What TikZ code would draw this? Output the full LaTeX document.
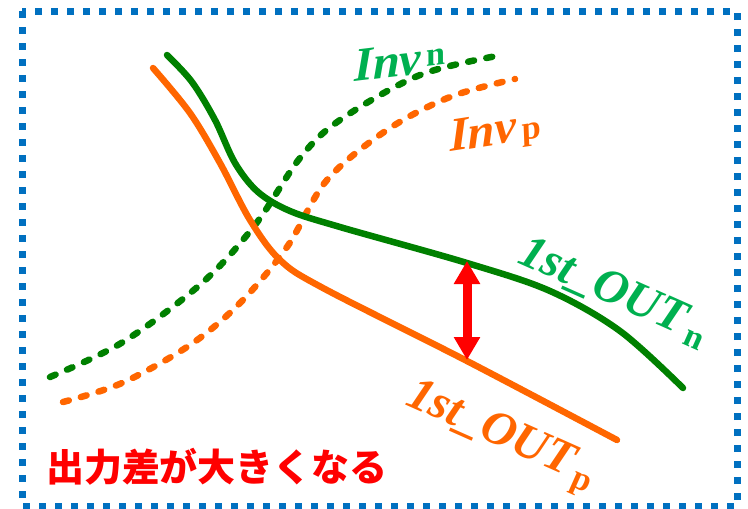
\documentclass[tikz,border=0pt]{standalone}
\usepackage{fontspec}
\setmainfont{Liberation Serif}
\newfontfamily\cjkfont{Noto Sans CJK JP}
\usetikzlibrary{arrows.meta}
\definecolor{bordblue}{HTML}{0070C0}
\definecolor{curvegreen}{HTML}{008000}
\definecolor{lblgreen}{HTML}{00B050}
\definecolor{curveorange}{HTML}{FF6600}
\tikzset{
  solidcurve/.style={line width=6.5pt, line cap=round, line join=round},
  dashcurve/.style={line width=6.5pt, line cap=round, dash pattern=on 6pt off 12.5pt},
  lbl/.style={font=\fontsize{48}{52}\selectfont\bfseries\itshape, inner sep=0pt, anchor=base west},
  invlbl/.style={lbl, xslant=0.12},
}
\newcommand{\subtxt}[2]{\hspace{5pt}\raisebox{#1}{\fontsize{34}{38}\selectfont\upshape #2}}
\begin{document}
\begin{tikzpicture}[x=1pt,y=-1pt]
\useasboundingbox (0,0) rectangle (748,509);
% border
\draw[bordblue, line width=7pt, dash pattern=on 7pt off 9pt] (22,11) rectangle (737,506);
% dashed curves
\draw[dashcurve, curvegreen] plot[smooth, tension=0.55] coordinates {(50,377) (123,342) (202,283) (255,225) (300,158) (340,120) (420,75) (502,55)};
\draw[dashcurve, curveorange] plot[smooth, tension=0.55] coordinates {(63,402) (122,383) (190,345) (240,303) (287,247) (327,180) (387,130) (450,97) (515,79)};
% solid curves
\draw[solidcurve, curvegreen] plot[smooth, tension=0.55] coordinates {(167,55) (192,82) (215,120) (235,163) (258,192) (290,211) (340,227) (467,263) (550,291) (620,331) (683,388)};
\draw[solidcurve, curveorange] plot[smooth, tension=0.55] coordinates {(153,68) (190,113) (220,163) (250,220) (280,260) (323,288) (467,361) (617,440)};
% arrow
\coordinate (atop) at (467,261);
\coordinate (abot) at (467,360);
\draw[red, line width=9pt, {Triangle[width=25pt,length=23pt]}-{Triangle[width=25pt,length=23pt]}] (atop) -- (abot);
% labels
\node[invlbl, lblgreen, rotate=7] (invn) at (354,82) {Inv\subtxt{7pt}{n}};
\node[invlbl, curveorange, rotate=9] (invp) at (450,152) {Inv\subtxt{0pt}{p}};
\node[lbl, lblgreen, rotate=-24] (outn) at (516,262) {1st\_OUT\subtxt{-7pt}{n}};
\node[lbl, curveorange, rotate=-24] (outp) at (404,404) {1st\_OUT\subtxt{-7pt}{p}};
\node[font=\cjkfont\bfseries\fontsize{38}{40}\selectfont, text=red, inner sep=0pt] (diff) at (217,467) {出力差が大きくなる};
\end{tikzpicture}
\end{document}
